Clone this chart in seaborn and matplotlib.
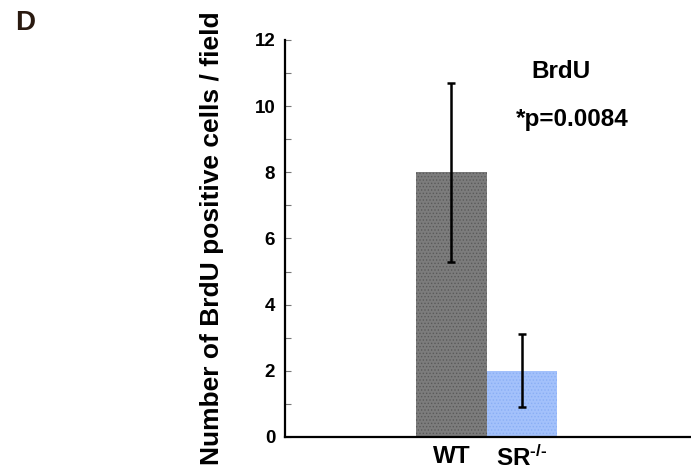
import pandas as pd
import matplotlib
matplotlib.use('Agg')
import matplotlib.pyplot as plt
import seaborn as sns
import numpy as np

# Data
groups = ['WT', 'SR-/-']
tick_labels = ['WT', r'SR$^{\text{-/-}}$']
means = [8.0, 2.0]
errors = [2.7, 1.1]
bar_colors = ['#7c7c7c', '#a3c1fb']
hatch_colors = ['#5a5a5a', '#8aaef5']

sns.set_style('white')
plt.rcParams['font.family'] = ['Liberation Sans', 'DejaVu Sans']
plt.rcParams['font.weight'] = 'bold'
plt.rcParams['text.color'] = 'black'
plt.rcParams['axes.labelcolor'] = 'black'
plt.rcParams['xtick.color'] = 'black'
plt.rcParams['ytick.color'] = 'black'
plt.rcParams['mathtext.fontset'] = 'custom'
plt.rcParams['mathtext.rm'] = 'Liberation Sans:bold'
plt.rcParams['mathtext.it'] = 'Liberation Sans:bold'
plt.rcParams['hatch.linewidth'] = 0.6

df = pd.DataFrame({'Genotype': groups, 'Count': means})

fig = plt.figure(figsize=(6.91, 4.72), dpi=100)
ax = fig.add_axes([0.4124, 0.0742, 0.5876, 0.8411])

sns.barplot(data=df, x='Genotype', y='Count', hue='Genotype', palette=bar_colors,
            width=1.0, legend=False, ax=ax, saturation=1)

for bar, hc in zip(ax.patches, hatch_colors):
    bar.set_hatch('.....')
    bar.set_edgecolor(hc)
    bar.set_linewidth(0)

ax.errorbar(np.arange(len(groups)), means, yerr=errors, fmt='none', ecolor='black',
            elinewidth=1.8, capsize=3, capthick=1.8)

ax.set_ylim(0, 12)
ax.set_xlim(-2.36, 3.4)
ax.set_yticks(np.arange(0, 13, 2))
ax.set_yticks(np.arange(1, 12, 2), minor=True)
ax.set_xticks(np.arange(len(groups)))
ax.set_xticklabels(tick_labels, fontsize=17.5, fontweight='bold')
ax.tick_params(axis='y', which='major', direction='in', length=4, width=0.8,
               color='#777777', labelcolor='black', labelsize=13.5, pad=7, left=True)
ax.tick_params(axis='y', which='minor', direction='in', length=4, width=0.8,
               color='#777777', left=True)
ax.tick_params(axis='x', length=0, pad=6, labelcolor='black')
for lab in ax.get_yticklabels():
    lab.set_fontweight('bold')

sns.despine(ax=ax)
ax.spines['left'].set_linewidth(1.6)
ax.spines['bottom'].set_linewidth(1.6)
ax.spines['left'].set_color('black')
ax.spines['bottom'].set_color('black')

ax.set_xlabel('')
ax.set_ylabel('Number of BrdU positive cells / field', fontsize=19, fontweight='bold',
              labelpad=22, color='black')

ax.text(1.557, 11.06, 'BrdU', fontsize=17.5, fontweight='bold', ha='center', va='center')
ax.text(1.714, 9.61, '*p=0.0084', fontsize=17.5, fontweight='bold', ha='center', va='center')

fig.text(0.022, 0.951, 'D', fontsize=20, fontweight='bold', color='#2a1a10',
         ha='left', va='center')

fig.savefig('out.png', dpi=100)
